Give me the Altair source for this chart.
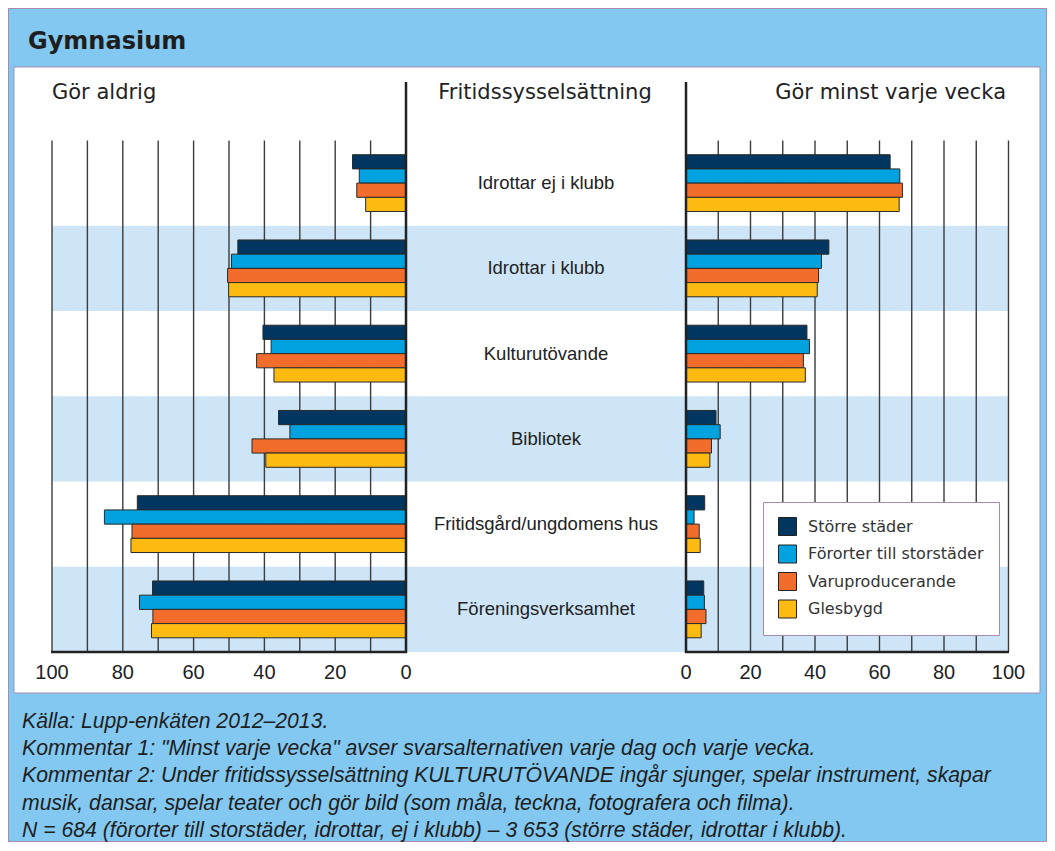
import altair as alt
import pandas as pd

# ---- data ----
categories = ["Idrottar ej i klubb", "Idrottar i klubb", "Kulturutövande",
              "Bibliotek", "Fritidsgård/ungdomens hus", "Föreningsverksamhet"]
groups = ["Större städer", "Förorter till storstäder", "Varuproducerande", "Glesbygd"]
colors = ["#00365F", "#00A3E0", "#F26D2C", "#FDBB12"]

# "Gör aldrig" (%)
never_storre = [15.1, 47.5, 40.4, 36.0, 75.9, 71.6]
never_fororter = [13.2, 49.3, 38.1, 32.8, 85.2, 75.3]
never_varu = [13.9, 50.4, 42.2, 43.5, 77.4, 71.5]
never_gles = [11.4, 50.1, 37.3, 39.6, 77.7, 71.9]

# "Gör minst varje vecka" (%)
weekly_storre = [63.3, 44.3, 37.5, 9.3, 5.8, 5.5]
weekly_fororter = [66.3, 42.0, 38.3, 10.6, 2.5, 5.7]
weekly_varu = [67.1, 41.1, 36.4, 7.9, 4.1, 6.2]
weekly_gles = [66.1, 40.7, 37.0, 7.4, 4.4, 4.7]

tick_values = [0, 20, 40, 60, 80, 100]
grid_values = [10, 20, 30, 40, 50, 60, 70, 80, 90, 100]
shaded = ["Idrottar i klubb", "Bibliotek", "Föreningsverksamhet"]

title_text = "Gymnasium"
header_left = "Gör aldrig"
header_mid = "Fritidssysselsättning"
header_right = "Gör minst varje vecka"
footer_lines = [
    "Källa: Lupp-enkäten 2012–2013.",
    "Kommentar 1: \"Minst varje vecka\" avser svarsalternativen varje dag och varje vecka.",
    "Kommentar 2: Under fritidssysselsättning KULTURUTÖVANDE ingår sjunger, spelar instrument, skapar",
    "musik, dansar, spelar teater och gör bild (som måla, teckna, fotografera och filma).",
    "N = 684 (förorter till storstäder, idrottar, ej i klubb) – 3 653 (större städer, idrottar i klubb).",
]

# ---- tables ----
def long(series):
    rows = []
    for g, vals in zip(groups, series):
        for c, v in zip(categories, vals):
            rows.append({"cat": c, "group": g, "value": v})
    return pd.DataFrame(rows)

never_df = long([never_storre, never_fororter, never_varu, never_gles])
weekly_df = long([weekly_storre, weekly_fororter, weekly_varu, weekly_gles])
ticks_df = pd.DataFrame({"t": tick_values})
grid_df = pd.DataFrame({"t": grid_values})
shade_df = pd.DataFrame({"cat": shaded})
cat_df = pd.DataFrame({"cat": categories})
one = alt.Data(values=[{}])

W, H = 1039, 834
SANS = "Liberation Sans"
VERD = "DejaVu Sans"

left_scale = alt.Scale(domain=[0, 100], range=[398, 44], nice=False, zero=True)
right_scale = alt.Scale(domain=[0, 100], range=[678, 1000.5], nice=False, zero=True)
y_scale = alt.Scale(domain=categories, range=[132.5, 644], paddingInner=0, paddingOuter=0)
y_enc = alt.Y("cat:N", sort=categories, scale=y_scale, axis=None)

color_enc = alt.Color(
    "group:N", sort=groups,
    scale=alt.Scale(domain=groups, range=colors),
    legend=alt.Legend(
        title=None, orient="none", legendX=755, legendY=494,
        fillColor="white", strokeColor="#A98BB0", padding=15,
        symbolType="square", symbolSize=324, symbolStrokeColor="#222",
        symbolStrokeWidth=1, symbolOpacity=1, labelFont=VERD, labelFontSize=16,
        labelColor="#333", labelOffset=11, rowPadding=4.5, labelLimit=0,
    ),
)
yoff = alt.YOffset("group:N", sort=groups, scale=alt.Scale(paddingOuter=1, paddingInner=0))

# outer border + white panel
border = alt.Chart(one).mark_rect(fill="#82C8F0", stroke="#A98BB0", strokeWidth=1).encode(
    x=alt.value(0.5), x2=alt.value(W - 0.5), y=alt.value(0.5), y2=alt.value(H - 0.5))
panel = alt.Chart(one).mark_rect(fill="white", stroke="#A98BB0", strokeWidth=1).encode(
    x=alt.value(6), x2=alt.value(1032), y=alt.value(59), y2=alt.value(685))

bands = alt.Chart(shade_df).mark_rect(fill="#CDE5F6").encode(
    y=y_enc, x=alt.value(44), x2=alt.value(1000.5))

grid_left = alt.Chart(grid_df).mark_rule(color="#3c3c3c", strokeWidth=1.4).encode(
    x=alt.X("t:Q", scale=left_scale, axis=None), y=alt.value(132.5), y2=alt.value(644))
grid_right = alt.Chart(grid_df).mark_rule(color="#3c3c3c", strokeWidth=1.4).encode(
    x=alt.X("t:Q", scale=right_scale, axis=None), y=alt.value(132.5), y2=alt.value(644))

bars_left = alt.Chart(never_df).mark_bar(stroke="#2a2a2a", strokeWidth=1).encode(
    x=alt.X("value:Q", scale=left_scale, axis=None), y=y_enc, yOffset=yoff, color=color_enc)
bars_right = alt.Chart(weekly_df).mark_bar(stroke="#2a2a2a", strokeWidth=1).encode(
    x=alt.X("value:Q", scale=right_scale, axis=None), y=y_enc, yOffset=yoff, color=color_enc)

sep_left = alt.Chart(one).mark_rule(color="#222", strokeWidth=2.5).encode(
    x=alt.value(398), y=alt.value(74), y2=alt.value(645))
sep_right = alt.Chart(one).mark_rule(color="#222", strokeWidth=2.5).encode(
    x=alt.value(678), y=alt.value(74), y2=alt.value(645))
base_left = alt.Chart(one).mark_rule(color="#222", strokeWidth=2.5).encode(
    x=alt.value(43), x2=alt.value(399), y=alt.value(644))
base_right = alt.Chart(one).mark_rule(color="#222", strokeWidth=2.5).encode(
    x=alt.value(677), x2=alt.value(1001), y=alt.value(644))

ticks_left = alt.Chart(ticks_df).mark_text(font=SANS, fontSize=20, color="#222", baseline="middle").encode(
    x=alt.X("t:Q", scale=left_scale, axis=None), y=alt.value(665), text="t:Q")
ticks_right = alt.Chart(ticks_df).mark_text(font=SANS, fontSize=20, color="#222", baseline="middle").encode(
    x=alt.X("t:Q", scale=right_scale, axis=None), y=alt.value(665), text="t:Q")

cat_labels = alt.Chart(cat_df).mark_text(font=SANS, fontSize=18.5, color="#222", baseline="middle").encode(
    y=y_enc, x=alt.value(538), text="cat:N")

title = alt.Chart(one).mark_text(font=VERD, fontSize=24, fontWeight="bold", color="#1e1e1e",
                                 align="left", baseline="alphabetic").encode(
    x=alt.value(20), y=alt.value(41), text=alt.value(title_text))
h_left = alt.Chart(one).mark_text(font=VERD, fontSize=21, color="#222", align="left", baseline="alphabetic").encode(
    x=alt.value(44), y=alt.value(91), text=alt.value(header_left))
h_mid = alt.Chart(one).mark_text(font=VERD, fontSize=21, color="#222", align="center", baseline="alphabetic").encode(
    x=alt.value(537), y=alt.value(91), text=alt.value(header_mid))
h_right = alt.Chart(one).mark_text(font=VERD, fontSize=21, color="#222", align="right", baseline="alphabetic").encode(
    x=alt.value(998), y=alt.value(91), text=alt.value(header_right))

footer = alt.Chart(one).mark_text(font=SANS, fontSize=21.2, fontStyle="italic", color="#1e1e1e",
                                  align="left", baseline="alphabetic", lineHeight=27.2).encode(
    x=alt.value(14), y=alt.value(720), text=alt.value(footer_lines))

chart = alt.layer(
    border, panel, bands, grid_left, grid_right, bars_left, bars_right,
    sep_left, sep_right, base_left, base_right, ticks_left, ticks_right,
    cat_labels, title, h_left, h_mid, h_right, footer,
).resolve_scale(x="independent").properties(
    width=W, height=H, padding=0, autosize="none", background="#82C8F0",
).configure_view(stroke=None)

chart.save("out.html", embed_options={"renderer": "svg", "actions": False})
